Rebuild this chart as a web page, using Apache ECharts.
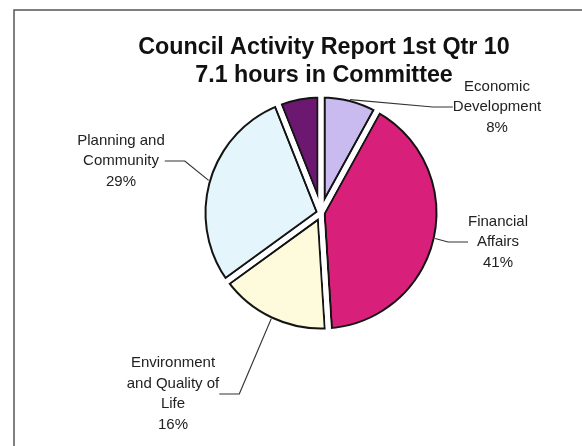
<!DOCTYPE html>
<html>
<head>
<meta charset="utf-8">
<script src="https://cdn.jsdelivr.net/npm/echarts@6/dist/echarts.min.js"></script>
<style>
html,body{margin:0;padding:0;background:#fff;}
#chart{width:582px;height:446px;}
</style>
</head>
<body>
<div id="chart"></div>
<script>
// Data
const categories = ['Economic Development', 'Financial Affairs', 'Environment and Quality of Life', 'Planning and Community', 'Other'];
const labelTexts = ['Economic\nDevelopment\n8%', 'Financial\nAffairs\n41%', 'Environment\nand Quality of\nLife\n16%', 'Planning and\nCommunity\n29%', ''];
const values = [8, 41, 16, 29, 6];
const colors = ['#c9bbef', '#d8207b', '#fdfbdc', '#e4f6fb', '#6c1870'];
const titleLines = ['Council Activity Report 1st Qtr 10', '7.1 hours in Committee'];

// Label placement (layout only)
const labelPos = [[497, 107], [498, 242], [173, 394], [121, 161], [0, 0]];

const chart = echarts.init(document.getElementById('chart'), null, {renderer: 'canvas'});
const FONT = '"Liberation Sans", Arial, sans-serif';
const CENTER = [321, 213];
const R = 119;
const pieData = () => categories.map((c, i) => ({name: c, value: values[i]}));
const base = {
  type: 'pie', silent: true, center: CENTER, startAngle: 90, clockwise: true, z: 2,
  emphasis: {disabled: true}, label: {show: false}, labelLine: {show: false}
};

chart.setOption({
  animation: false,
  backgroundColor: '#ffffff',
  title: [
    {text: titleLines[0], left: 319, top: 31, textAlign: 'center',
     textStyle: {fontFamily: FONT, fontSize: 23.3, fontWeight: 'bold', color: '#111'}},
    {text: titleLines[1], left: 319, top: 59, textAlign: 'center',
     textStyle: {fontFamily: FONT, fontSize: 23.3, fontWeight: 'bold', color: '#111'}}
  ],
  graphic: [{
    type: 'polyline', silent: true,
    shape: {points: [[14, 446], [14, 10], [582, 10]]},
    style: {stroke: '#555', lineWidth: 1.5, fill: null}
  }],
  series: [
    // coloured slices with a thick dark outline
    Object.assign({}, base, {
      radius: R,
      itemStyle: {borderColor: '#141414', borderWidth: 9, borderJoin: 'round'},
      data: categories.map((c, i) => ({name: c, value: values[i], itemStyle: {color: colors[i]}}))
    }),
    // white gaps between slices (explosion look)
    Object.assign({}, base, {
      radius: R,
      itemStyle: {color: 'rgba(0,0,0,0)', borderColor: '#ffffff', borderWidth: 5, borderJoin: 'round'},
      data: pieData()
    }),
    // trim the outer side of the outline
    Object.assign({}, base, {
      radius: [R + 1, R + 10],
      itemStyle: {color: '#ffffff', borderColor: '#ffffff', borderWidth: 1},
      data: [{name: 'ring', value: 1}]
    }),
    // labels and leader lines
    Object.assign({}, base, {
      radius: R - 2,
      z: 5,
      avoidLabelOverlap: false,
      itemStyle: {color: 'rgba(0,0,0,0)', borderWidth: 0},
      label: {
        show: true, position: 'outside',
        fontFamily: FONT, fontSize: 15, lineHeight: 20.5, color: '#222', align: 'center',
        formatter: p => labelTexts[p.dataIndex]
      },
      labelLine: {show: true, length: 20, length2: 20, lineStyle: {color: '#333', width: 1.2}},
      labelLayout: p => ({
        x: labelPos[p.dataIndex][0],
        y: labelPos[p.dataIndex][1],
        align: 'center',
        verticalAlign: 'middle'
      }),
      data: categories.map((c, i) => ({
        name: c, value: values[i],
        label: {show: i < 4},
        labelLine: {show: i < 4}
      }))
    })
  ]
});
</script>
</body>
</html>
